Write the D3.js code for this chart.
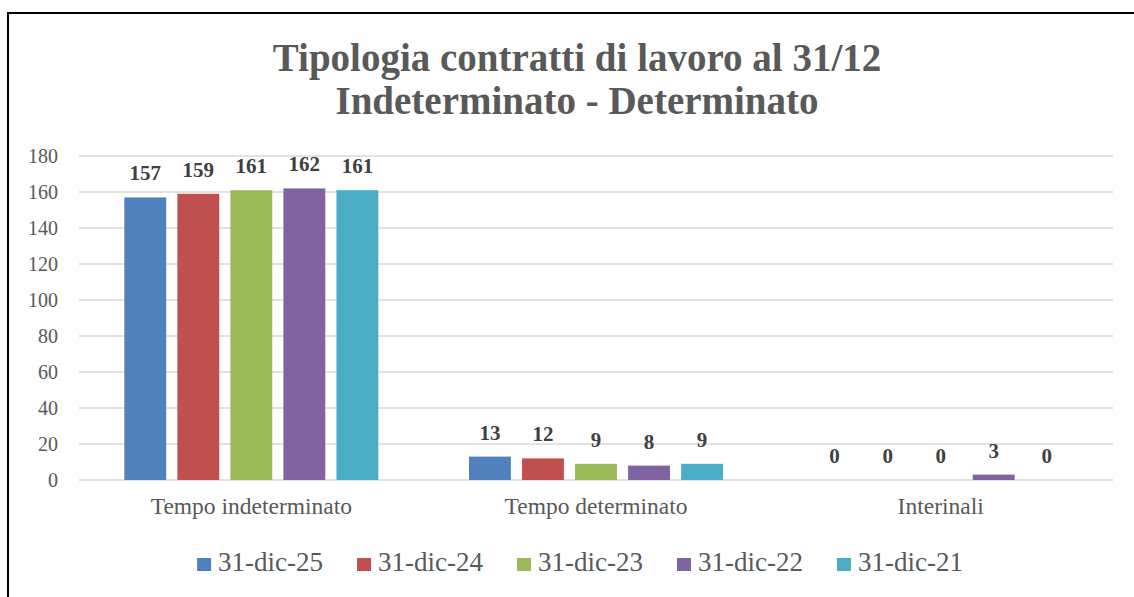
<!DOCTYPE html>
<html>
<head>
<meta charset="utf-8">
<script src="https://cdn.jsdelivr.net/npm/d3@7"></script>
<style>
  html, body { margin: 0; padding: 0; background: #fff; }
  svg { display: block; }
  svg text { font-family: "Liberation Serif", "DejaVu Serif", serif; }
</style>
</head>
<body>
<svg id="chart" width="1134" height="597"></svg>
<script>
const categories = ["Tempo indeterminato", "Tempo determinato", "Interinali"];
const seriesNames = ["31-dic-25", "31-dic-24", "31-dic-23", "31-dic-22", "31-dic-21"];
const values_25 = [157, 13, 0];
const values_24 = [159, 12, 0];
const values_23 = [161, 9, 0];
const values_22 = [162, 8, 3];
const values_21 = [161, 9, 0];
const yTicks = [0, 20, 40, 60, 80, 100, 120, 140, 160, 180];
const titleLines = ["Tipologia contratti di lavoro al 31/12", "Indeterminato - Determinato"];
const colors = ["#4F81BD", "#C0504D", "#9BBB59", "#8064A2", "#4BACC6"];

const seriesValues = [values_25, values_24, values_23, values_22, values_21];

const svg = d3.select("#chart");

// outer border
svg.append("rect")
  .attr("x", 8).attr("y", 13)
  .attr("width", 1160).attr("height", 620)
  .attr("fill", "#fff").attr("stroke", "#000").attr("stroke-width", 2);

// title
svg.append("g").selectAll("text").data(titleLines).join("text")
  .attr("x", 577)
  .attr("y", (d, i) => 71 + i * 43)
  .attr("text-anchor", "middle")
  .attr("font-weight", "bold")
  .attr("font-size", 39)
  .attr("fill", "#595959")
  .text(d => d);

const plot = { left: 79, right: 1113, top: 156, bottom: 480 };

const y = d3.scaleLinear().domain([0, 180]).range([plot.bottom, plot.top]);
const x0 = d3.scaleBand().domain(categories).range([plot.left, plot.right]).padding(0);
const x1 = d3.scaleBand().domain(seriesNames).range([0, x0.bandwidth()])
  .paddingInner(0.21).paddingOuter(0.855);

// gridlines
svg.append("g").selectAll("line").data(yTicks).join("line")
  .attr("x1", plot.left).attr("x2", plot.right)
  .attr("y1", d => y(d)).attr("y2", d => y(d))
  .attr("stroke", "#d9d9d9").attr("stroke-width", 1.5);

// y axis labels
const yAxis = d3.axisLeft(y).tickValues(yTicks).tickSize(0).tickPadding(0);
const yg = svg.append("g").attr("transform", "translate(58,0)").call(yAxis);
yg.select(".domain").remove();
yg.attr("font-family", null);
yg.selectAll("text")
  .attr("font-size", 20)
  .attr("fill", "#595959");

// bars
const groups = svg.append("g").selectAll("g").data(categories).join("g")
  .attr("transform", d => `translate(${x0(d)},0)`);

groups.each(function(cat, ci) {
  const g = d3.select(this);
  const data = seriesNames.map((s, si) => ({ s, si, v: seriesValues[si][ci] }));
  g.selectAll("rect").data(data).join("rect")
    .attr("x", d => x1(d.s))
    .attr("width", x1.bandwidth())
    .attr("y", d => y(d.v))
    .attr("height", d => y(0) - y(d.v))
    .attr("fill", d => colors[d.si]);
  g.selectAll("text").data(data).join("text")
    .attr("x", d => x1(d.s) + x1.bandwidth() / 2)
    .attr("y", d => y(d.v) - 17)
    .attr("text-anchor", "middle")
    .attr("font-weight", "bold")
    .attr("font-size", 21)
    .attr("fill", "#404040")
    .text(d => d.v);
});

// x axis labels
const xAxis = d3.axisBottom(x0).tickSize(0).tickPadding(0);
const xg = svg.append("g").attr("transform", `translate(0,${plot.bottom})`).call(xAxis);
xg.select(".domain").remove();
xg.attr("font-family", null);
xg.selectAll("text")
  .attr("dy", 0)
  .attr("y", 34)
  .attr("font-size", 23.5)
  .attr("fill", "#595959");

// legend
const legend = svg.append("g");
const items = legend.selectAll("g").data(seriesNames).join("g");
items.append("rect")
  .attr("x", 0).attr("y", -13)
  .attr("width", 14).attr("height", 13)
  .attr("fill", (d, i) => colors[i]);
items.append("text")
  .attr("x", 21).attr("y", 0)
  .attr("font-size", 27)
  .attr("fill", "#595959")
  .text(d => d);
let cx = 0;
const offsets = [];
items.each(function() {
  offsets.push(cx);
  const w = d3.select(this).select("text").node().getComputedTextLength();
  cx += 21 + w + 34;
});
const totalW = cx - 34;
const startX = 580 - totalW / 2;
items.attr("transform", (d, i) => `translate(${startX + offsets[i]},571)`);
</script>
</body>
</html>
